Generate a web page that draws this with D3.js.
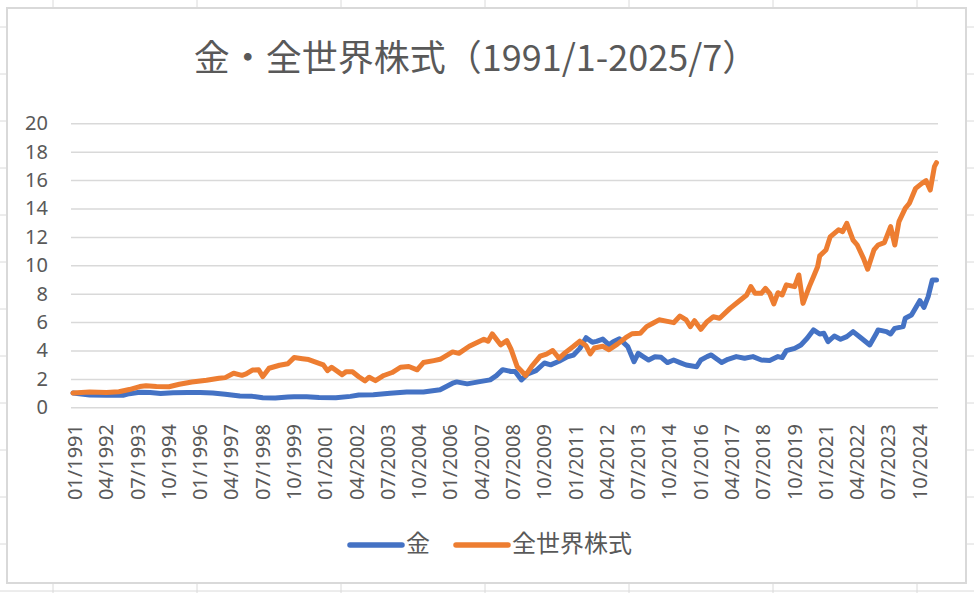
<!DOCTYPE html>
<html>
<head>
<meta charset="utf-8">
<title>金・全世界株式</title>
<script src="https://cdn.jsdelivr.net/npm/d3@7"></script>
<style>
  body { margin: 0; background: #fff; }
  svg { display: block; }
</style>
</head>
<body>
<div id="my-viz"></div>
<script>
var w = 974;
var h = 593;

// one category per month, 01/1991 .. 07/2025
var months = [];
for (var yr = 1991; yr <= 2025; yr++) {
    for (var mo = 1; mo <= 12; mo++) {
        if (yr == 2025 && mo > 7) break;
        months.push((mo < 10 ? "0" + mo : "" + mo) + "/" + yr);
    }
}

var xTickLabels = ["01/1991", "04/1992", "07/1993", "10/1994", "01/1996", "04/1997", "07/1998",
    "10/1999", "01/2001", "04/2002", "07/2003", "10/2004", "01/2006", "04/2007", "07/2008",
    "10/2009", "01/2011", "04/2012", "07/2013", "10/2014", "01/2016", "04/2017", "07/2018",
    "10/2019", "01/2021", "04/2022", "07/2023", "10/2024"];
var yTicks = [0, 2, 4, 6, 8, 10, 12, 14, 16, 18, 20];

var seriesNames = ["金", "全世界株式"];
var seriesColors = ["#4472C4", "#ED7D31"];

// month offset from 01/1991 and value (01/1991 = 1)
var goldMonth = [0, 8, 16, 24, 27, 32, 37, 42, 48, 55, 61, 67, 73, 80, 86, 91, 97, 103, 106, 112,
    118, 126, 133, 137, 144, 152, 160, 168, 176, 182, 184, 189, 195, 200, 203, 206, 210, 212, 215,
    218, 222, 226, 229, 233, 237, 240, 243, 246, 249, 251, 254, 257, 259, 262, 266, 269, 271, 273,
    276, 279, 282, 285, 288, 291, 294, 299, 301, 304, 306, 311, 314, 318, 322, 326, 330, 334, 338,
    340, 342, 346, 349, 352, 355, 358, 360, 362, 365, 368, 371, 374, 378, 382, 385, 386, 390, 392,
    394, 398, 399, 402, 406, 408, 410, 412, 414];
var goldValue = [1.00, 0.87, 0.85, 0.84, 0.96, 1.06, 1.04, 0.98, 1.03, 1.04, 1.05, 1.00, 0.92, 0.79,
    0.77, 0.68, 0.65, 0.72, 0.75, 0.74, 0.69, 0.67, 0.77, 0.87, 0.89, 0.99, 1.08, 1.08, 1.24, 1.70,
    1.79, 1.65, 1.81, 1.93, 2.23, 2.65, 2.52, 2.52, 1.93, 2.35, 2.58, 3.12, 2.99, 3.24, 3.56, 3.68,
    4.15, 4.90, 4.58, 4.64, 4.80, 4.40, 4.62, 4.82, 4.27, 3.21, 3.80, 3.60, 3.33, 3.56, 3.52, 3.15,
    3.33, 3.15, 2.98, 2.86, 3.33, 3.57, 3.69, 3.15, 3.38, 3.57, 3.45, 3.57, 3.33, 3.29, 3.57, 3.50,
    3.99, 4.15, 4.39, 4.86, 5.45, 5.16, 5.21, 4.62, 5.02, 4.79, 4.98, 5.33, 4.86, 4.39, 5.16, 5.45,
    5.33, 5.16, 5.56, 5.68, 6.27, 6.50, 7.51, 7.04, 7.79, 8.97, 8.97];

var stockMonth = [0, 8, 16, 22, 27, 32, 35, 40, 46, 51, 57, 64, 70, 73, 77, 81, 83, 86, 89, 91, 94,
    99, 103, 106, 110, 113, 117, 120, 122, 124, 129, 131, 134, 137, 140, 142, 145, 149, 153, 157,
    161, 165, 168, 173, 176, 182, 185, 190, 197, 199, 201, 205, 208, 210, 213, 215, 217, 220, 224,
    227, 230, 233, 236, 240, 243, 246, 248, 250, 254, 257, 261, 265, 268, 272, 275, 278, 281, 285,
    288, 291, 294, 296, 298, 301, 304, 307, 310, 315, 320, 323, 325, 327, 330, 332, 334, 336, 338,
    340, 342, 346, 348, 350, 353, 355, 357, 358, 361, 363, 367, 369, 371, 374, 376, 379, 381, 384,
    386, 389, 392, 394, 396, 399, 401, 404, 407, 409, 411, 413, 414];
var stockValue = [1.00, 1.08, 1.04, 1.10, 1.25, 1.46, 1.52, 1.46, 1.45, 1.62, 1.78, 1.90, 2.04, 2.09,
    2.40, 2.25, 2.35, 2.62, 2.64, 2.16, 2.75, 2.96, 3.07, 3.50, 3.42, 3.36, 3.15, 2.99, 2.58, 2.82,
    2.30, 2.51, 2.50, 2.15, 1.86, 2.12, 1.88, 2.24, 2.45, 2.82, 2.87, 2.64, 3.15, 3.29, 3.38, 3.90,
    3.80, 4.30, 4.80, 4.66, 5.17, 4.40, 4.70, 4.10, 2.85, 2.55, 2.24, 2.90, 3.60, 3.75, 4.00, 3.45,
    3.85, 4.30, 4.66, 4.33, 3.76, 4.18, 4.30, 4.05, 4.45, 4.90, 5.18, 5.22, 5.68, 5.92, 6.16, 6.05,
    5.96, 6.43, 6.15, 5.68, 6.10, 5.49, 6.03, 6.38, 6.27, 6.97, 7.56, 7.91, 8.50, 8.03, 8.03, 8.38,
    8.03, 7.28, 8.07, 7.91, 8.62, 8.50, 9.32, 7.32, 8.50, 9.20, 9.90, 10.66, 11.08, 12.00, 12.50,
    12.37, 12.96, 11.78, 11.43, 10.49, 9.72, 11.08, 11.43, 11.60, 12.72, 11.43, 13.08, 14.01, 14.37,
    15.42, 15.77, 15.96, 15.30, 16.95, 17.23];

var svg = d3.select("#my-viz")
    .append("svg")
    .attr("width", w)
    .attr("height", h);

// worksheet cells behind the chart object
var sheet = svg.append("g").attr("stroke", "#dadada").attr("stroke-width", 1);
sheet.selectAll("line.col")
    .data(d3.range(53, w, 144))
    .enter().append("line")
    .attr("x1", function(d) { return d; }).attr("x2", function(d) { return d; })
    .attr("y1", 0).attr("y2", h);
sheet.selectAll("line.row")
    .data(d3.range(27, h, 47))
    .enter().append("line")
    .attr("x1", 0).attr("x2", w)
    .attr("y1", function(d) { return d; }).attr("y2", function(d) { return d; });

// chart area
svg.append("rect")
    .attr("x", 7).attr("y", 8)
    .attr("width", 959).attr("height", 575)
    .attr("fill", "#fff")
    .attr("stroke", "#d9d9d9")
    .attr("stroke-width", 2);

svg.append("text")
    .attr("x", 476).attr("y", 71)
    .attr("text-anchor", "middle")
    .attr("font-family", "'Noto Sans CJK JP', 'Noto Sans'")
    .attr("font-size", 36)
    .attr("fill", "#595959")
    .text("金・全世界株式（1991/1-2025/7）");

var x = d3.scalePoint().domain(months).range([73, 936.5]);
var y = d3.scaleLinear().domain([0, 20]).range([407.3, 123.3]);

// gridlines
var grid = svg.append("g")
    .attr("transform", "translate(71,0)")
    .call(d3.axisLeft(y).tickValues(yTicks).tickSize(-867).tickFormat(""));
grid.select(".domain").remove();
grid.selectAll("line").attr("stroke", "#d9d9d9").attr("stroke-width", 1.5);

// y labels
var yAxis = svg.append("g")
    .attr("transform", "translate(48,0)")
    .call(d3.axisLeft(y).tickValues(yTicks).tickSize(0).tickPadding(0));
yAxis.select(".domain").remove();
yAxis.selectAll("text")
    .attr("font-family", "'Noto Sans', sans-serif")
    .attr("font-size", 20)
    .attr("fill", "#595959");

// x labels, rotated
var xAxis = svg.append("g")
    .attr("transform", "translate(0,424)")
    .call(d3.axisBottom(x).tickValues(xTickLabels).tickSize(0));
xAxis.select(".domain").remove();
xAxis.selectAll("text")
    .attr("font-family", "'Noto Sans', sans-serif")
    .attr("font-size", 20)
    .attr("fill", "#595959")
    .attr("text-anchor", "end")
    .attr("transform", "rotate(-90)")
    .attr("x", 0)
    .attr("y", 1.5)
    .attr("dy", "0.35em");

var line = d3.line()
    .x(function(d) { return x(months[d[0]]); })
    .y(function(d) { return y(d[1]); });

var series = [d3.zip(goldMonth, goldValue), d3.zip(stockMonth, stockValue)];

svg.selectAll("path.series")
    .data(series)
    .enter().append("path")
    .attr("class", "series")
    .attr("d", line)
    .attr("fill", "none")
    .attr("stroke", function(d, i) { return seriesColors[i]; })
    .attr("stroke-width", 5)
    .attr("stroke-linejoin", "round")
    .attr("stroke-linecap", "round");

// legend
var legendX = [350, 456];
var legend = svg.selectAll("g.legend")
    .data(seriesNames)
    .enter().append("g")
    .attr("class", "legend")
    .attr("transform", function(d, i) { return "translate(" + legendX[i] + ",545)"; });
legend.append("line")
    .attr("x1", 0).attr("x2", 52)
    .attr("stroke", function(d, i) { return seriesColors[i]; })
    .attr("stroke-width", 5.5)
    .attr("stroke-linecap", "round");
legend.append("text")
    .attr("x", 56).attr("y", 7)
    .attr("font-family", "'Noto Sans CJK JP', sans-serif")
    .attr("font-size", 24)
    .attr("fill", "#595959")
    .text(function(d) { return d; });
</script>
</body>
</html>
